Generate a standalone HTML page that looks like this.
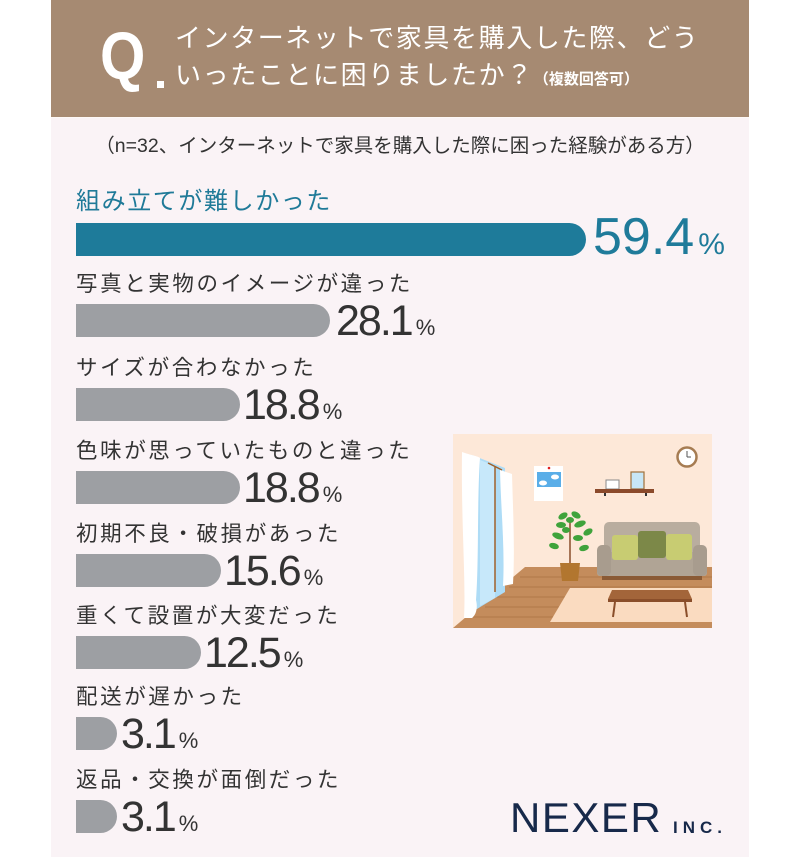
<!DOCTYPE html>
<html>
<head>
<meta charset="utf-8">
<style>
  html,body{margin:0;padding:0;background:#ffffff;}
  body{width:800px;height:857px;position:relative;overflow:hidden;
    font-family:"Liberation Sans","Noto Sans CJK JP",sans-serif;}
  .card{position:absolute;left:51px;top:0;width:698px;height:857px;background:#faf3f6;}
  .hdr{position:absolute;left:51px;top:0;width:698px;height:117px;background:#a68a72;}
  .hline{position:absolute;left:51px;top:117px;width:698px;height:1px;background:#fdf8f6;}
  .abs{position:absolute;white-space:nowrap;line-height:1;}
  .t1{font-size:26px;letter-spacing:1.6px;color:#fff;}
  .lbl{font-size:21.5px;letter-spacing:2.6px;color:#333;left:76px;}
  .bar{position:absolute;left:76px;height:33px;background:#9d9fa3;border-radius:0 17px 17px 0;}
  .num{font-size:43px;letter-spacing:-2px;color:#333;}
  .num span{font-size:22px;letter-spacing:0;margin-left:4px;}
</style>
</head>
<body>
<div class="card"></div>
<div class="hdr"></div>
<div class="hline"></div>

<!-- Header -->
<div class="abs" style="left:100px;top:23px;font-size:67px;font-weight:bold;color:#fff;transform:scaleX(0.87);transform-origin:left top;">Q</div>
<div style="position:absolute;left:157px;top:81px;width:7px;height:7px;background:#fff;"></div>
<div class="abs t1" style="left:175px;top:25px;">インターネットで家具を購入した際、どう</div>
<div class="abs t1" style="left:175px;top:62px;">いったことに困りましたか？<span style="font-size:15px;font-weight:bold;letter-spacing:0;">（複数回答可）</span></div>

<!-- Subtitle -->
<div class="abs" style="left:51px;width:698px;text-align:center;top:137px;font-size:19.5px;color:#333;">（n=32、インターネットで家具を購入した際に困った経験がある方）</div>

<!-- Row 1 -->
<div class="abs" style="left:76px;top:190px;font-size:24px;letter-spacing:1.6px;color:#1f7a98;">組み立てが難しかった</div>
<div class="bar" style="top:223px;width:510px;background:#1e7b9a;"></div>
<div class="abs" style="left:593px;top:211px;font-size:52px;color:#1f7b9a;">59.4<span style="font-size:30px;margin-left:4px;">%</span></div>

<!-- Row 2 -->
<div class="abs lbl" style="top:274px;">写真と実物のイメージが違った</div>
<div class="bar" style="top:304px;width:254px;"></div>
<div class="abs num" style="left:336px;top:300px;">28.1<span>%</span></div>

<!-- Row 3 -->
<div class="abs lbl" style="top:358px;">サイズが合わなかった</div>
<div class="bar" style="top:388px;width:164px;"></div>
<div class="abs num" style="left:243px;top:384px;">18.8<span>%</span></div>

<!-- Row 4 -->
<div class="abs lbl" style="top:441px;">色味が思っていたものと違った</div>
<div class="bar" style="top:471px;width:164px;"></div>
<div class="abs num" style="left:243px;top:467px;">18.8<span>%</span></div>

<!-- Row 5 -->
<div class="abs lbl" style="top:524px;">初期不良・破損があった</div>
<div class="bar" style="top:554px;width:145px;"></div>
<div class="abs num" style="left:224px;top:550px;">15.6<span>%</span></div>

<!-- Row 6 -->
<div class="abs lbl" style="top:606px;">重くて設置が大変だった</div>
<div class="bar" style="top:636px;width:125px;"></div>
<div class="abs num" style="left:204px;top:632px;">12.5<span>%</span></div>

<!-- Row 7 -->
<div class="abs lbl" style="top:687px;">配送が遅かった</div>
<div class="bar" style="top:717px;width:41px;"></div>
<div class="abs num" style="left:121px;top:713px;">3.1<span>%</span></div>

<!-- Row 8 -->
<div class="abs lbl" style="top:770px;">返品・交換が面倒だった</div>
<div class="bar" style="top:800px;width:41px;"></div>
<div class="abs num" style="left:121px;top:796px;">3.1<span>%</span></div>

<!-- Illustration -->
<svg style="position:absolute;left:453px;top:434px;" width="259" height="194" viewBox="453 434 259 194" xmlns="http://www.w3.org/2000/svg">
  <rect x="453" y="434" width="259" height="194" fill="#fde8d8"/>
  <polygon points="525,567 712,567 712,628 453,628" fill="#c48c5c"/>
  <g stroke="#b07848" stroke-width="1">
    <line x1="520" y1="577" x2="712" y2="577"/>
    <line x1="509" y1="587" x2="712" y2="587"/>
    <line x1="497" y1="597" x2="712" y2="597"/>
    <line x1="485" y1="607" x2="712" y2="607"/>
    <line x1="473" y1="617" x2="712" y2="617"/>
  </g>
  <polygon points="570,588 712,588 712,622 550,622" fill="#fadbc0"/>
  <polygon points="472,455 505,468 505,592 472,612" fill="#aedcf6"/>
  <polygon points="480,460 495,466 495,598 480,606" fill="#c7e8fa"/>
  <line x1="488" y1="463" x2="502" y2="470" stroke="#a0602a" stroke-width="1.5"/>
  <line x1="495" y1="467" x2="495" y2="592" stroke="#a0602a" stroke-width="1.5"/>
  <path d="M462,452 C470,455 478,456 480,458 C477,500 479,560 476,600 C478,608 476,615 472,618 L464,618 C466,580 461,520 462,452 Z" fill="#ffffff"/>
  <path d="M500,470 L512,474 C513,510 515,550 513,584 L503,586 C505,550 501,510 500,470 Z" fill="#ffffff"/>
  <rect x="534" y="466" width="29" height="35" fill="#ffffff"/>
  <rect x="537" y="472" width="24" height="15" fill="#5aaee8"/>
  <ellipse cx="543" cy="483" rx="4" ry="2.5" fill="#fff"/>
  <ellipse cx="555" cy="477" rx="4" ry="2.5" fill="#fff"/>
  <circle cx="549" cy="468" r="1.3" fill="#e02020"/>
  <circle cx="687" cy="457" r="9.5" fill="#ffffff" stroke="#a67c52" stroke-width="2.5"/>
  <line x1="687" y1="457" x2="687" y2="451" stroke="#555" stroke-width="1"/>
  <line x1="687" y1="457" x2="691" y2="457" stroke="#555" stroke-width="1"/>
  <rect x="606" y="480" width="13" height="9" fill="#ffffff" stroke="#8a8a8a" stroke-width="1"/>
  <rect x="631" y="472" width="13" height="17" fill="#c7e6f6" stroke="#a0703a" stroke-width="1.2"/>
  <rect x="595" y="489" width="59" height="4" fill="#8b4a2b"/>
  <rect x="604" y="493" width="2" height="3" fill="#333"/>
  <rect x="645" y="493" width="2" height="3" fill="#333"/>
  <line x1="570" y1="563" x2="570" y2="518" stroke="#8a4e2a" stroke-width="1.5"/>
  <g fill="#3fa33b">
    <ellipse cx="563" cy="516" rx="5" ry="3" transform="rotate(-30 563 516)"/>
    <ellipse cx="576" cy="515" rx="5" ry="3" transform="rotate(30 576 515)"/>
    <ellipse cx="561" cy="525" rx="5" ry="3"/>
    <ellipse cx="580" cy="524" rx="6" ry="3" transform="rotate(-20 580 524)"/>
    <ellipse cx="588" cy="532" rx="5" ry="3" transform="rotate(-30 588 532)"/>
    <ellipse cx="558" cy="536" rx="6" ry="3" transform="rotate(20 558 536)"/>
    <ellipse cx="578" cy="538" rx="5" ry="3"/>
    <ellipse cx="554" cy="546" rx="5" ry="3" transform="rotate(15 554 546)"/>
    <ellipse cx="584" cy="548" rx="5" ry="3" transform="rotate(-15 584 548)"/>
    <ellipse cx="566" cy="530" rx="4" ry="3"/>
    <ellipse cx="570" cy="520" rx="4" ry="3"/>
  </g>
  <polygon points="560,563 580,563 578,581 562,581" fill="#b2762f"/>
  <rect x="604" y="522" width="96" height="34" rx="5" fill="#b9ad9f"/>
  <rect x="597" y="552" width="110" height="24" rx="3" fill="#b0a495"/>
  <rect x="597" y="545" width="14" height="31" rx="5" fill="#a89c8e"/>
  <rect x="693" y="545" width="14" height="31" rx="5" fill="#a89c8e"/>
  <rect x="612" y="535" width="26" height="25" rx="3" fill="#c8cc72"/>
  <rect x="666" y="534" width="26" height="26" rx="3" fill="#c8cc72"/>
  <rect x="638" y="531" width="28" height="27" rx="3" fill="#7c8848"/>
  <rect x="602" y="576" width="100" height="4" fill="#8a5a35"/>
  <polygon points="612,590 688,590 692,599 608,599" fill="#a3653a"/>
  <rect x="608" y="599" width="84" height="3" fill="#8a4e2a"/>
  <line x1="615" y1="602" x2="613" y2="617" stroke="#8a4e2a" stroke-width="2"/>
  <line x1="685" y1="602" x2="687" y2="617" stroke="#8a4e2a" stroke-width="2"/>
</svg>

<!-- Logo -->
<div class="abs" style="left:510px;top:797px;font-size:42px;letter-spacing:1.5px;color:#17294a;">NEXER</div>
<div class="abs" style="left:673px;top:819px;font-size:17px;font-weight:bold;letter-spacing:5px;color:#17294a;">INC.</div>
</body>
</html>
